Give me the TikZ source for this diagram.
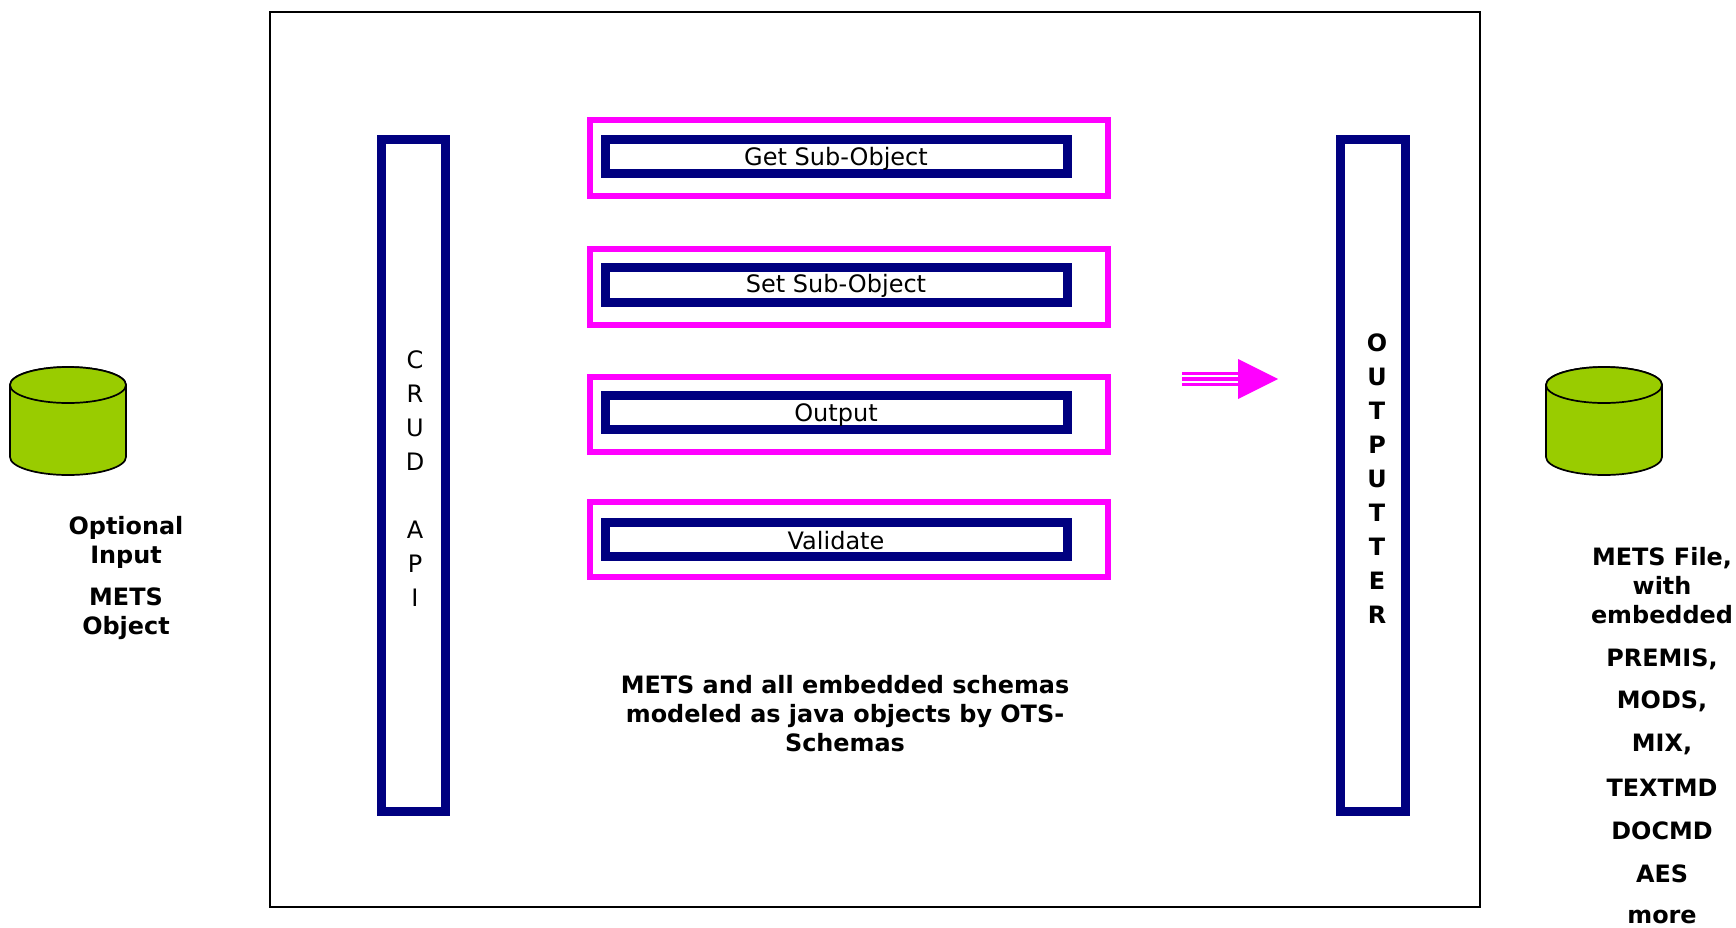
\documentclass[tikz,border=0pt]{standalone}
\usepackage{fontspec}
\setmainfont{DejaVu Sans}
\definecolor{navybar}{RGB}{0,0,128}
\definecolor{pinkbar}{RGB}{255,0,255}
\definecolor{drumgreen}{RGB}{153,204,0}
\tikzset{
  frame/.style={draw=black,line width=2pt,fill=white},
  outerbox/.style={draw=pinkbar,line width=6pt},
  innerbox/.style={draw=navybar,line width=9pt},
  vbar/.style={draw=navybar,line width=9pt},
  drumline/.style={draw=black,line width=1.7pt,fill=drumgreen},
  drum/.pic={
    \draw[drumline] (-58,-36) -- (-58,36)
      arc[start angle=180,end angle=360,x radius=58pt,y radius=18pt]
      -- (58,-36)
      arc[start angle=0,end angle=180,x radius=58pt,y radius=18pt] -- cycle;
    \draw[drumline] (0,-36) ellipse [x radius=58pt,y radius=18pt];
  },
  plain/.style={font=\fontsize{24}{29}\selectfont,align=center,text=black,inner sep=0pt},
  strong/.style={font=\fontsize{23.9}{29}\bfseries\selectfont,align=center,text=black,inner sep=0pt},
  vplain/.style={plain,font=\fontsize{24}{34}\selectfont},
  vstrong/.style={strong,font=\fontsize{23.9}{34}\bfseries\selectfont},
}
\begin{document}
\begin{tikzpicture}[x=1pt,y=-1pt]
\useasboundingbox (0,0) rectangle (1736,927);
\path[fill=white] (0,0) rectangle (1736,927);
\draw[frame] (270,12) rectangle (1480,907);

\pic at (68,421) {drum};
\pic at (1604,421) {drum};

\draw[vbar] (381,139) rectangle (445.5,811);
\draw[vbar] (1340.5,139) rectangle (1405.5,811);

\draw[outerbox] (589.5,120) rectangle (1108,196);
\draw[outerbox] (589.5,248.5) rectangle (1108,324.5);
\draw[outerbox] (589.5,376.5) rectangle (1108,451.5);
\draw[outerbox] (589.5,502) rectangle (1108,577);

\draw[innerbox] (605,139) rectangle (1067,173.5);
\draw[innerbox] (605,267.5) rectangle (1067,302);
\draw[innerbox] (605,395) rectangle (1067,429.5);
\draw[innerbox] (605,522) rectangle (1067,556.5);

\node[plain] (lget) at (836,159) {Get Sub-Object};
\node[plain] (lset) at (836,286) {Set Sub-Object};
\node[plain] (lout) at (836,415) {Output};
\node[plain] (lval) at (836,541) {Validate};

\node[vplain] (crud) at (415,479) {C\\R\\U\\D\\[34pt]A\\P\\I};
\node[vstrong] (outp) at (1377,479) {O\\U\\T\\P\\U\\T\\T\\E\\R};

\node[strong] (model) at (845,714) {METS and all embedded schemas\\modeled as java objects by OTS-\\Schemas};

\node[strong] (in1) at (126,542) {Optional\\Input};
\node[strong] (in2) at (126,614) {METS\\Object};

\node[strong] (o1) at (1662,586) {METS File,\\with\\embedded};
\node[strong] (o2) at (1662,659) {PREMIS,};
\node[strong] (o3) at (1662,701) {MODS,};
\node[strong] (o4) at (1662,744) {MIX,};
\node[strong] (o5) at (1662,788) {TEXTMD};
\node[strong] (o6) at (1662,831) {DOCMD};
\node[strong] (o7) at (1662,874) {AES};
\node[strong] (o8) at (1662,916.5) {more};

\coordinate (tailA) at (1182,379);
\coordinate (headB) at (1238,379);
\coordinate (tipC) at (1278,379);
\fill[pinkbar] ([yshift=-7pt]tailA) rectangle ([yshift=7pt]headB);
\draw[white,line width=1.2pt] ([yshift=-3pt]tailA) -- ([yshift=-3pt]headB);
\draw[white,line width=1.2pt] ([yshift=3pt]tailA) -- ([yshift=3pt]headB);
\fill[pinkbar] ([yshift=-20pt]headB) -- (tipC) -- ([yshift=20pt]headB) -- cycle;
\end{tikzpicture}
\end{document}
